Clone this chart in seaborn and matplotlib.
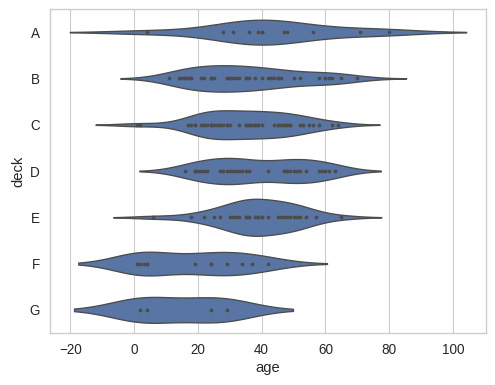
import matplotlib
matplotlib.use("Agg")
import matplotlib.pyplot as plt
import seaborn as sns
import pandas as pd

# ages per deck
deck_order = ["A", "B", "C", "D", "E", "F", "G"]
age_a = [4, 28, 31, 36, 39, 40, 40, 47, 48, 56, 71, 80]
age_b = [11, 14, 15, 16, 16, 17, 18, 18, 21, 22, 24, 24, 24, 25, 29, 29, 30, 30,
         31, 32, 33, 35, 35, 36, 38, 40, 42, 43, 44, 45, 45, 46, 50, 52, 58, 60,
         60, 61, 62, 65, 70]
age_c = [0.92, 2, 17, 18, 19, 19, 21, 22, 22, 23, 24, 24, 24, 25, 26, 27, 27, 28,
         29, 29, 30, 33, 35, 35, 36, 36, 36, 37, 38, 38, 39, 39, 40, 44, 45, 45,
         46, 47, 47, 48, 48, 49, 49, 52, 53, 55, 56, 58, 62, 64]
age_d = [16, 19, 19, 20, 21, 22, 23, 27, 28, 29, 30, 31, 32, 33, 34, 35, 35, 36,
         42, 47, 47, 48, 48, 49, 50, 51, 52, 54, 58, 59, 60, 60, 61, 63]
age_e = [6, 18, 22, 25, 27, 30, 31, 32, 33, 35, 35, 36, 36, 38, 39, 39, 40, 40,
         42, 45, 46, 47, 48, 49, 50, 51, 52, 54, 57, 65]
age_f = [1, 2, 3, 4, 4, 19, 24, 24, 29, 34, 37, 42]
age_g = [2, 4, 24, 29]

ages = [age_a, age_b, age_c, age_d, age_e, age_f, age_g]
df = pd.DataFrame({
    "deck": [d for d, a in zip(deck_order, ages) for _ in a],
    "age": [v for a in ages for v in a],
})

sns.set_theme(style="whitegrid", font_scale=1.15)
plt.rcParams["font.family"] = ["Liberation Sans", "DejaVu Sans"]
fig, ax = plt.subplots(figsize=(495 / 77, 385 / 77), dpi=77)
sns.violinplot(data=df, x="age", y="deck", order=deck_order, inner="point", ax=ax)
fig.subplots_adjust(left=50 / 495, right=486 / 495, bottom=1 - 333 / 385, top=1 - 9 / 385)
fig.savefig("out.png", dpi=77)
